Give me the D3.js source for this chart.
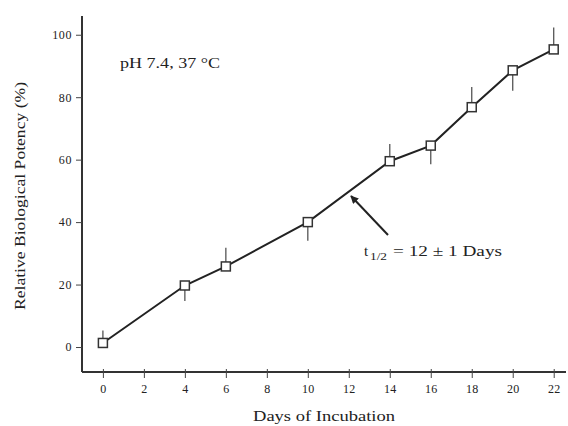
<!DOCTYPE html>
<html>
<head>
<meta charset="utf-8">
<script src="https://cdn.jsdelivr.net/npm/d3@7"></script>
<style>
  body { margin: 0; background: #fff; }
  text { font-family: "Liberation Serif", "DejaVu Serif", serif; fill: #222; }
</style>
</head>
<body>
<div id="chart"></div>
<script>
// potency measured on each incubation day
var days = [0, 4, 6, 10, 14, 16, 18, 20, 22];
var potency = [1.3, 19.7, 25.8, 40, 59.5, 64.5, 76.8, 88.6, 95.3];
// one sided error whiskers (up / down), in %
var errUp = [4, 0, 6, 0, 5.5, 0, 6.5, 0, 7];
var errDown = [0, 5, 0, 6, 0, 6, 0, 6.5, 0];
var xTicks = [0, 2, 4, 6, 8, 10, 12, 14, 16, 18, 20, 22];
var yTicks = [0, 20, 40, 60, 80, 100];

var width = 568, height = 426;

var svg = d3.select("#chart").append("svg")
  .attr("width", width)
  .attr("height", height);

// scales, picked so the frame sits where the scanned one does
var x = d3.scaleLinear().domain([-1.02, 22.6]).range([82, 566]);
var y = d3.scaleLinear().domain([-8, 106]).range([372, 16]);

// frame lines
svg.append("line")
  .attr("x1", x(-1.02)).attr("x2", x(-1.02))
  .attr("y1", y(106)).attr("y2", y(-8))
  .attr("stroke", "#333").attr("stroke-width", 2);
svg.append("line")
  .attr("x1", x(-1.02)).attr("x2", x(22.6))
  .attr("y1", y(-8)).attr("y2", y(-8))
  .attr("stroke", "#333").attr("stroke-width", 2);

// x axis ticks
var xAxis = d3.axisBottom(x).tickValues(xTicks).tickSize(6).tickPadding(6);
var gx = svg.append("g").attr("transform", "translate(0," + y(-8) + ")").call(xAxis);
gx.select(".domain").remove();
gx.selectAll("line").attr("stroke", "#444").attr("y1", -3);
gx.selectAll("text").style("font-size", "12px").style("letter-spacing", "0.3px").attr("fill", "#333");

// y axis ticks
var yAxis = d3.axisLeft(y).tickValues(yTicks).tickSize(6).tickPadding(4);
var gy = svg.append("g").attr("transform", "translate(" + x(-1.02) + ",0)").call(yAxis);
gy.select(".domain").remove();
gy.selectAll("line").attr("stroke", "#444");
gy.selectAll("text").style("font-size", "12px").style("letter-spacing", "0.6px").attr("fill", "#333");

// axis titles, stretched to the widths of the scan
svg.append("text")
  .attr("x", 253).attr("y", 421)
  .attr("textLength", 142).attr("lengthAdjust", "spacingAndGlyphs")
  .style("font-size", "15px")
  .text("Days of Incubation");

svg.append("text")
  .attr("transform", "translate(25,310) rotate(-90)")
  .attr("textLength", 228).attr("lengthAdjust", "spacingAndGlyphs")
  .style("font-size", "15px")
  .text("Relative Biological Potency (%)");

// error whiskers
svg.selectAll(".err")
  .data(days)
  .enter()
  .append("line")
  .attr("class", "err")
  .attr("x1", function(d){ return x(d); })
  .attr("x2", function(d){ return x(d); })
  .attr("y1", function(d, i){ return y(potency[i] - errDown[i]); })
  .attr("y2", function(d, i){ return y(potency[i] + errUp[i]); })
  .attr("stroke", "#555")
  .attr("stroke-width", 1.3);

// the data line
var line = d3.line()
  .x(function(d, i){ return x(days[i]); })
  .y(function(d){ return y(d); });

svg.append("path")
  .datum(potency)
  .attr("d", line)
  .attr("fill", "none")
  .attr("stroke", "#222")
  .attr("stroke-width", 2);

// open square markers
var s = 9;
svg.selectAll(".pt")
  .data(potency)
  .enter()
  .append("rect")
  .attr("class", "pt")
  .attr("x", function(d, i){ return x(days[i]) - s / 2; })
  .attr("y", function(d){ return y(d) - s / 2; })
  .attr("width", s).attr("height", s)
  .attr("fill", "#fff")
  .attr("stroke", "#333")
  .attr("stroke-width", 1.5);

// condition label
svg.append("text")
  .attr("x", 120).attr("y", 68)
  .attr("textLength", 100).attr("lengthAdjust", "spacingAndGlyphs")
  .style("font-size", "14px")
  .text("pH 7.4, 37 \u00B0C");

// half life arrow
svg.append("defs").append("marker")
  .attr("id", "head")
  .attr("viewBox", "0 0 10 10")
  .attr("refX", 9).attr("refY", 5)
  .attr("markerWidth", 4).attr("markerHeight", 4)
  .attr("orient", "auto")
  .append("path")
  .attr("d", "M0,0 L10,5 L0,10 z")
  .attr("fill", "#222");

svg.append("line")
  .attr("x1", 388).attr("y1", 235)
  .attr("x2", 351).attr("y2", 196)
  .attr("stroke", "#222")
  .attr("stroke-width", 2)
  .attr("marker-end", "url(#head)");

svg.append("text")
  .attr("x", 364).attr("y", 256)
  .style("font-size", "15px")
  .text("t");
svg.append("text")
  .attr("x", 370).attr("y", 260)
  .attr("textLength", 17).attr("lengthAdjust", "spacingAndGlyphs")
  .style("font-size", "10px")
  .text("1/2");
svg.append("text")
  .attr("x", 393).attr("y", 256)
  .attr("textLength", 109).attr("lengthAdjust", "spacingAndGlyphs")
  .style("font-size", "15px")
  .text("= 12 \u00B1 1 Days");
</script>
</body>
</html>
